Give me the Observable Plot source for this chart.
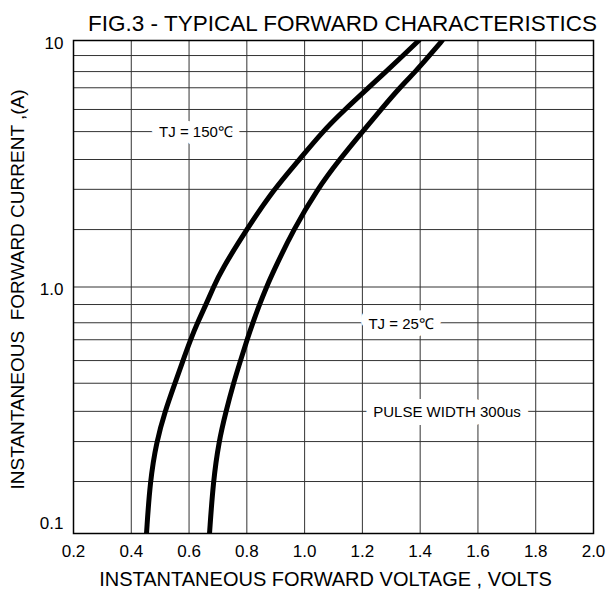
<!DOCTYPE html>
<html>
<head>
<meta charset="utf-8">
<script src="https://cdn.jsdelivr.net/npm/d3@7"></script>
<script src="https://cdn.jsdelivr.net/npm/@observablehq/plot@0.6"></script>
<style>
  html, body { margin: 0; padding: 0; background: #fff; }
</style>
</head>
<body>
<div id="chart"></div>
<script>
const titleText = "FIG.3 - TYPICAL FORWARD CHARACTERISTICS";
const xLabel = "INSTANTANEOUS FORWARD VOLTAGE , VOLTS";
const yLabel = "INSTANTANEOUS  FORWARD CURRENT ,(A)";

const voltTicks = [0.2, 0.4, 0.6, 0.8, 1.0, 1.2, 1.4, 1.6, 1.8, 2.0];
const currentTicksUpper = [10, 1];
const currentTicksLower = [0.1];
const currentTickLabels = {10: "10", 1: "1.0", 0.1: "0.1"};
// horizontal grid lines
const currentGrid = [8.69, 7.48, 6.43, 5.25, 4.27, 3.29, 2.49, 1.71, 1,
                     0.849, 0.716, 0.611, 0.503, 0.407, 0.313, 0.236, 0.1625];

// TJ = 150 C curve
const tj150V = [0.4527, 0.4648, 0.4873, 0.5167, 0.5513, 0.579, 0.605, 0.6292, 0.6587, 0.6846, 0.7113, 0.7989, 0.8934, 0.9823, 1.0619, 1.1398, 1.2211, 1.2817, 1.3406, 1.3953];
const tj150I = [0.1, 0.1625, 0.236, 0.313, 0.407, 0.503, 0.611, 0.716, 0.849, 1.0, 1.167, 1.71, 2.49, 3.29, 4.27, 5.25, 6.43, 7.48, 8.69, 10];
// TJ = 25 C curve
const tj25V = [0.6708, 0.6836, 0.703, 0.7279, 0.7538, 0.7781, 0.8006, 0.8207, 0.8438, 0.8681, 0.8934, 0.9615, 1.0436, 1.1208, 1.2004, 1.2644, 1.3285, 1.3838, 1.4323, 1.4763];
const tj25I = [0.1, 0.1625, 0.236, 0.313, 0.407, 0.503, 0.611, 0.716, 0.849, 1.0, 1.167, 1.71, 2.49, 3.29, 4.27, 5.25, 6.43, 7.48, 8.69, 10];

const labelText = ["TJ = 150\u2103", "TJ = 25\u2103", "PULSE WIDTH 300us"];
const labelV = [0.624, 1.334, 1.493];
const labelI = [4.27, 0.716, 0.313];

const curve150 = tj150V.map((v, i) => ({v, i: tj150I[i]}));
const curve25 = tj25V.map((v, i) => ({v, i: tj25I[i]}));
const labels = labelText.map((t, k) => ({t, v: labelV[k], i: labelI[k]}));

const font = "'Liberation Sans', Arial, sans-serif";

const chart = Plot.plot({
  width: 608,
  height: 597,
  marginTop: 40,
  marginBottom: 64,
  marginLeft: 73,
  marginRight: 15,
  style: {fontFamily: font, fontSize: "17px", background: "#fff", color: "#000"},
  x: {domain: [0.2, 2.0], label: null},
  y: {type: "log", domain: [0.1, 10], label: null},
  marks: [
    Plot.ruleX(voltTicks, {stroke: "#333", strokeWidth: 1}),
    Plot.ruleY(currentGrid, {stroke: "#333", strokeWidth: 1}),
    Plot.text(labels, {x: "v", y: "i", text: "t", fontSize: 15, fill: "#000",
      stroke: "#fff", strokeWidth: 16, strokeLinejoin: "round", dy: 1}),
    Plot.line(curve150, {x: "v", y: "i", stroke: "#000", strokeWidth: 5, curve: "basis", clip: true}),
    Plot.line(curve25, {x: "v", y: "i", stroke: "#000", strokeWidth: 5, curve: "basis", clip: true}),
    Plot.frame({stroke: "#000", strokeWidth: 1.5}),
    Plot.axisX(voltTicks, {tickSize: 0, tickPadding: 11, tickFormat: d3.format(".1f"), label: null, fontSize: 17}),
    Plot.axisY(currentTicksUpper, {tickSize: 0, tickPadding: 10, tickFormat: d => currentTickLabels[d], label: null, dy: 3, fontSize: 17}),
    Plot.axisY(currentTicksLower, {tickSize: 0, tickPadding: 10, tickFormat: d => currentTickLabels[d], label: null, dy: -10, fontSize: 17}),
    Plot.text([titleText], {frameAnchor: "top", dy: -25, dx: 9, fontSize: 22.5, fill: "#000"}),
    Plot.text([xLabel], {frameAnchor: "bottom", dy: 52, dx: -8, fontSize: 20, fill: "#000"}),
    Plot.text([yLabel], {frameAnchor: "left", dx: -56, dy: 2.5, rotate: -90, textAnchor: "middle", fontSize: 19, fill: "#000"})
  ]
});
document.getElementById("chart").appendChild(chart);
</script>
</body>
</html>
